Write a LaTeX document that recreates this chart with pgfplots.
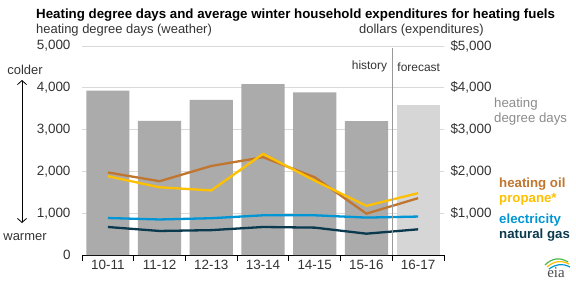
\documentclass[border=0pt]{standalone}
\usepackage{pgfplots}
\pgfplotsset{compat=1.18}
\usetikzlibrary{arrows.meta}
\usepackage{fontspec}
\setmainfont{Liberation Sans}
\newfontfamily\eiafont{Liberation Serif}
\definecolor{hddgray}{HTML}{ABABAB}
\definecolor{fcgray}{HTML}{D6D6D6}
\definecolor{oilc}{HTML}{C0762F}
\definecolor{propc}{HTML}{FFC000}
\definecolor{elecc}{HTML}{0096D6}
\definecolor{gasc}{HTML}{0B3A4E}
\definecolor{txtc}{HTML}{333333}
\definecolor{gridc}{HTML}{D9D9D9}
\definecolor{lblgray}{HTML}{8C8C8C}

\begin{document}
\begin{tikzpicture}
\useasboundingbox (0,0) rectangle (576bp,-282bp);
\begin{axis}[
    scale only axis,
    width=362bp, height=209bp,
    at={(82bp,-255bp)}, anchor=south west,
    xmin=-0.5, xmax=6.5,
    ymin=0, ymax=5000,
    axis x line*=bottom, axis y line*=left,
    y axis line style={draw=none},
    x axis line style={black, line width=0.8bp, -},
    ytick={0,1000,...,5000},
    ymajorgrids, grid style={gridc, line width=0.8bp},
    xtick={0,...,6},
    xticklabels={10-11,11-12,12-13,13-14,14-15,15-16,16-17},
    minor xtick={-0.5,0.5,...,6.5},
    tick align=outside,
    major tick length=0pt, minor tick length=6bp,
    minor tick style={black, line width=0.8bp},
    ticklabel style={font=\fontsize{13.5}{15}\selectfont, text=txtc},
    yticklabel style={xshift=-8bp},
    xticklabel style={yshift=-2bp},
    /pgf/number format/.cd, 1000 sep={,}, assume math mode=true,
    clip=false,
]
% heating degree days (history and forecast)
\addplot[ybar, bar width=0.835, bar shift=0pt, fill=hddgray, draw=none]
  coordinates {(0,3935)(1,3210)(2,3710)(3,4090)(4,3890)(5,3200)};
\addplot[ybar, bar width=0.835, bar shift=0pt, fill=fcgray, draw=none]
  coordinates {(6,3600)};
% expenditures (dollars)
\addplot[gasc, line width=2.3bp, mark=none] coordinates {
  (0,670)(1,575)(2,595)(3,670)(4,655)(5,510)(6,615)};
\addplot[elecc, line width=2.3bp, mark=none] coordinates {
  (0,885)(1,850)(2,880)(3,950)(4,950)(5,895)(6,920)};
\addplot[oilc, line width=2.3bp, mark=none] coordinates {
  (0,1975)(1,1765)(2,2130)(3,2340)(4,1860)(5,990)(6,1360)};
\addplot[propc, line width=2.3bp, mark=none] coordinates {
  (0,1885)(1,1620)(2,1545)(3,2420)(4,1780)(5,1175)(6,1480)};
% history / forecast divider
\draw[gray!80, line width=0.8bp] (axis cs:5.5,0) -- (axis cs:5.5,4950);
\node[anchor=east, text=txtc, font=\fontsize{12}{14}\selectfont, inner sep=0pt]
  at ([xshift=-5bp]axis cs:5.5,4500) {history};
\node[anchor=west, text=txtc, font=\fontsize{12}{14}\selectfont, inner sep=0pt]
  at ([xshift=5bp]axis cs:5.5,4500) {forecast};
\end{axis}
% right axis: dollars
\begin{axis}[
    scale only axis,
    width=362bp, height=209bp,
    at={(82bp,-255bp)}, anchor=south west,
    xmin=-0.5, xmax=6.5,
    ymin=0, ymax=5000,
    hide x axis,
    axis y line*=right,
    y axis line style={draw=none},
    ytick={1000,2000,3000,4000,5000},
    yticklabels={{\$1,000},{\$2,000},{\$3,000},{\$4,000},{\$5,000}},
    major tick length=0pt,
    yticklabel style={font=\fontsize{13.5}{15}\selectfont, text=txtc, anchor=west, xshift=3bp},
]
\addplot[draw=none] coordinates {(0,0)};
\end{axis}
% titles
\node[anchor=base west, inner sep=0pt, font=\bfseries\fontsize{13.35}{15}\selectfont, text=black]
  at (36bp,-18bp) {Heating degree days and average winter household expenditures for heating fuels};
\node[anchor=base west, inner sep=0pt, font=\fontsize{13}{15}\selectfont, text=txtc]
  at (36bp,-33bp) {heating degree days (weather)};
\node[anchor=base west, inner sep=0pt, font=\fontsize{13}{15}\selectfont, text=txtc]
  at (359bp,-33bp) {dollars (expenditures)};
% colder / warmer arrow
\node[text=txtc, font=\fontsize{13}{15}\selectfont] at (25bp,-70bp) {colder};
\node[text=txtc, font=\fontsize{13}{15}\selectfont] at (25bp,-237bp) {warmer};
\draw[black, line width=0.8bp, <->, >={Straight Barb[length=4bp, width=9bp]}]
  (22bp,-80bp) -- (22bp,-223bp);
% right-hand labels
\node[anchor=west, inner sep=0pt, text=lblgray, font=\fontsize{13.3}{15}\selectfont, align=left]
  at (494bp,-112bp) {heating\\degree days};
\node[anchor=west, inner sep=0pt, text=oilc, font=\bfseries\fontsize{13.3}{15}\selectfont]
  at (499bp,-184bp) {heating oil};
\node[anchor=west, inner sep=0pt, text=propc, font=\bfseries\fontsize{13.3}{15}\selectfont]
  at (499bp,-199bp) {propane*};
\node[anchor=west, inner sep=0pt, text=elecc, font=\bfseries\fontsize{13.3}{15}\selectfont]
  at (499bp,-220bp) {electricity};
\node[anchor=west, inner sep=0pt, text=gasc, font=\bfseries\fontsize{13.3}{15}\selectfont]
  at (499bp,-235bp) {natural gas};
% eia logo
\node[text=black!70, font=\eiafont\fontsize{15}{15}\selectfont, inner sep=0pt] at (556bp,-273bp) {eia};
\draw[green!60!black!70, line width=1.2bp] (545bp,-265bp) .. controls (552bp,-258bp) and (560bp,-257bp) .. (568bp,-262bp);
\draw[propc, line width=1.2bp] (547bp,-267bp) .. controls (554bp,-261bp) and (561bp,-260bp) .. (569bp,-264bp);
\draw[elecc, line width=1.2bp] (549bp,-269bp) .. controls (556bp,-264bp) and (562bp,-263bp) .. (570bp,-267bp);
\end{tikzpicture}
\end{document}
